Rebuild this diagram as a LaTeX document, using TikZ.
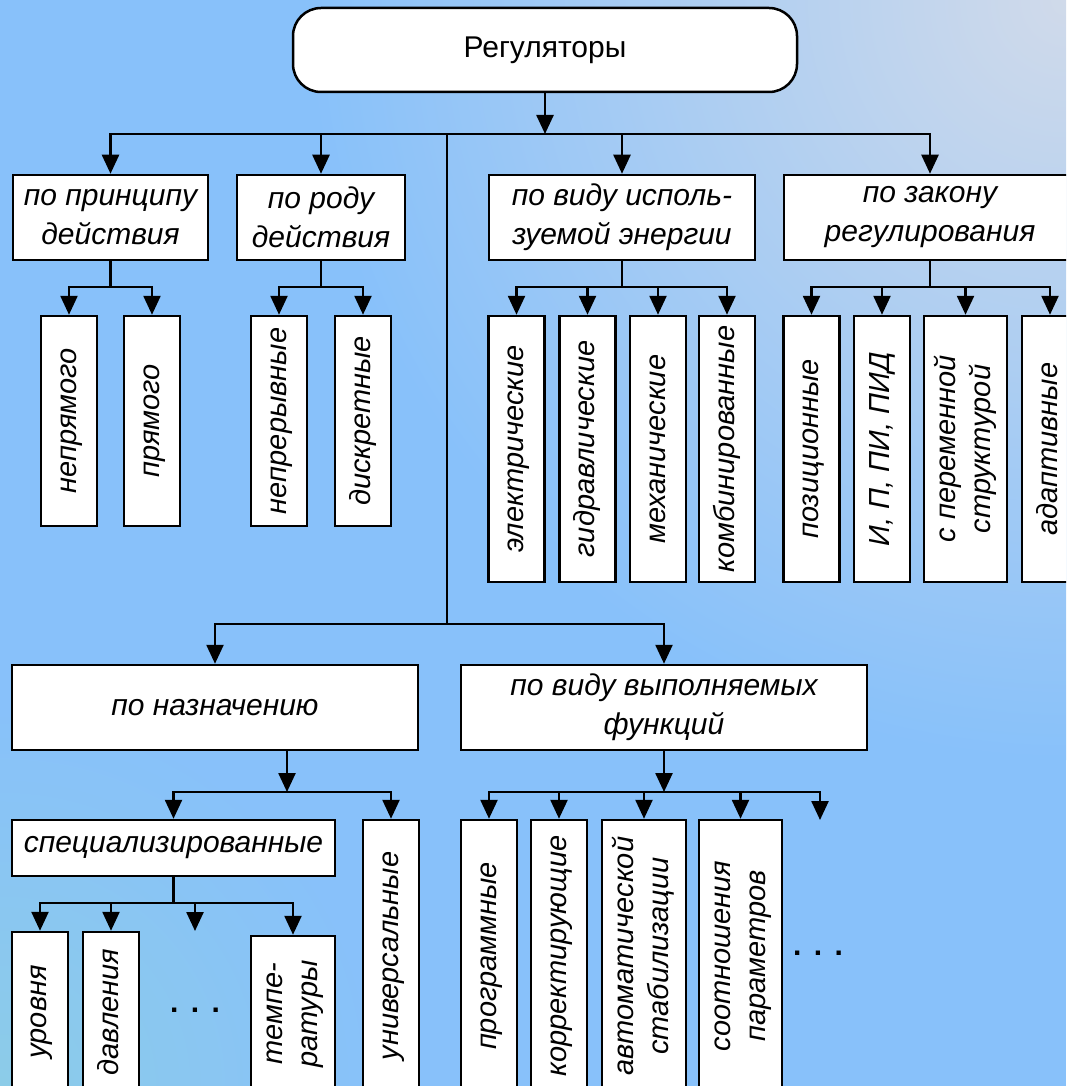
\documentclass[tikz,border=0pt]{standalone}
\usepackage{fontspec}
\setmainfont{Liberation Sans}
\usepackage{xcolor}
\usepackage{tikz}
\usetikzlibrary{arrows.meta}

\definecolor{bgblue}{RGB}{136,193,250}
\definecolor{bggrey}{RGB}{208,218,234}
\definecolor{bgteal}{RGB}{140,204,232}

\newcommand{\vtxt}[1]{\rotatebox{90}{\begin{tabular}{@{}c@{}}#1\end{tabular}}}

\begin{document}
\begin{tikzpicture}[x=1pt, y=-1pt, line width=2.5pt, line cap=rect, color=black,
		cat/.style={draw, fill=white, inner sep=0pt, align=center,
			font=\fontsize{30}{39}\selectfont\itshape},
		leaf/.style={draw, fill=white, inner sep=0pt, minimum width=56pt,
			font=\fontsize{29}{35}\selectfont\itshape},
		arr/.style={-{Triangle[length=19pt,width=17pt]}}]
		\useasboundingbox (0,0) rectangle (1066,1086);
		\clip (0,0) rectangle (1066,1086);
		
		% background
		\fill[bgblue] (0,0) rectangle (1066,1086);
		\shade[inner color=bgteal, outer color=bgblue] (0,1086) circle (380pt);
		\shade[inner color=bggrey, outer color=bgblue] (1066,0) circle (760pt);
		
		% main boxes
		\node[cat, rounded corners=28pt, minimum width=504pt, minimum height=84pt,
			font=\fontsize{30}{39}\selectfont] (reg) at (545,50) {Регуляторы};
		\node[cat, minimum width=195pt, minimum height=85pt] (princ) at (110.5,217.5) {по принципу\\действия};
		\node[cat, minimum width=168pt, minimum height=85pt] (rod) at (321,217.5) {по роду\\действия};
		\node[cat, minimum width=266pt, minimum height=85pt] (energ) at (622,217.5) {по виду исполь-\\зуемой энергии};
		\node[cat, minimum width=292pt, minimum height=85pt] (zakon) at (930,217.5) {по закону\\регулирования};
		\node[cat, minimum width=406pt, minimum height=85pt] (nazn) at (215,707.5) {по назначению};
		\node[cat, minimum width=406pt, minimum height=85pt] (funk) at (664,707.5) {по виду выполняемых\\функций};
		\node[cat, minimum width=323pt, minimum height=56pt] (spec) at (173.5,848) {специализированные};
		
		% vertical boxes
		\begin{scope}[leaf/.append style={minimum height=210pt}]
			\node[leaf] (nepr) at (69,421) {\vtxt{непрямого}};
			\node[leaf] (pryam) at (152,421) {\vtxt{прямого}};
			\node[leaf] (nepre) at (279,421) {\vtxt{непрерывные}};
			\node[leaf] (diskr) at (363,421) {\vtxt{дискретные}};
		\end{scope}
		\begin{scope}[leaf/.append style={minimum height=266pt}]
			\node[leaf] (elek) at (516.5,449) {\vtxt{электрические}};
			\node[leaf] (gidr) at (587.5,449) {\vtxt{гидравлические}};
			\node[leaf] (mekh) at (658,449) {\vtxt{механические}};
			\node[leaf] (komb) at (727,449) {\vtxt{комбинированные}};
			\node[leaf] (pozi) at (811.5,449) {\vtxt{позиционные}};
			\node[leaf] (pid) at (882,449) {\vtxt{И, П, ПИ, ПИД}};
			\node[leaf, minimum width=83pt] (pere) at (965.5,449) {\vtxt{с переменной\\структурой}};
			\node[leaf] (adap) at (1050,449) {\vtxt{адаптивные}};
		\end{scope}
		\begin{scope}[leaf/.append style={minimum height=272pt}]
			\node[leaf] (univ) at (391,956) {\vtxt{универсальные}};
			\node[leaf] (prog) at (489,956) {\vtxt{программные}};
			\node[leaf] (korr) at (559,956) {\vtxt{корректирующие}};
			\node[leaf, minimum width=84pt] (avto) at (644,956) {\vtxt{автоматической\\стабилизации}};
			\node[leaf, minimum width=83pt] (soot) at (740.5,956) {\vtxt{соотношения\\параметров}};
		\end{scope}
		\begin{scope}[leaf/.append style={minimum height=160pt}]
			\node[leaf] (urov) at (40,1012) {\vtxt{уровня}};
			\node[leaf] (davl) at (111,1012) {\vtxt{давления}};
			\node[leaf, minimum width=84pt, minimum height=156pt] (temp) at (293,1014) {\vtxt{темпе-\\ратуры}};
		\end{scope}
		
		% dots
		\begin{scope}[font=\fontsize{30}{39}\selectfont\bfseries]
			\node (dotsa) at (818,953) {.\hspace{12.5pt}.\hspace{12.5pt}.};
			\node (dotsb) at (195,1010) {.\hspace{12.5pt}.\hspace{12.5pt}.};
		\end{scope}
		\coordinate (morea) at (820,820);
		\coordinate (moreb) at (195,931);
		
		% top level
		\coordinate (bar1) at (545,134);
		\draw[arr] (reg.south) -- (bar1);
		\draw (princ.north |- bar1) -- (zakon.north |- bar1);
		\foreach \n in {princ,rod,energ,zakon}
			\draw[arr] (\n.north |- bar1) -- (\n.north);
		\coordinate (bar2) at (447,624);
		\draw (bar2 |- bar1) -- (bar2);
		\draw (nazn.north |- bar2) -- (funk.north |- bar2);
		\foreach \n in {nazn,funk}
			\draw[arr] (\n.north |- bar2) -- (\n.north);
		
		% first row branches
		\coordinate (sub1) at (0,287);
		\draw (princ.south) -- (princ.south |- sub1);
		\draw (nepr.north |- sub1) -- (pryam.north |- sub1);
		\draw (rod.south) -- (rod.south |- sub1);
		\draw (nepre.north |- sub1) -- (diskr.north |- sub1);
		\draw (energ.south) -- (energ.south |- sub1);
		\draw (elek.north |- sub1) -- (komb.north |- sub1);
		\draw (zakon.south) -- (zakon.south |- sub1);
		\draw (pozi.north |- sub1) -- (adap.north |- sub1);
		\foreach \n in {nepr,pryam,nepre,diskr,elek,gidr,mekh,komb,pozi,pid,pere,adap}
			\draw[arr] (\n.north |- sub1) -- (\n.north);
		
		% second row branches
		\coordinate (sub2) at (287,792);
		\draw[arr] (sub2 |- nazn.south) -- (sub2);
		\draw (spec.north |- sub2) -- (univ.north |- sub2);
		\draw[arr] (funk.south) -- (funk.south |- sub2);
		\draw (prog.north |- sub2) -- (morea |- sub2);
		\foreach \n in {spec,univ,prog,korr,avto,soot}
			\draw[arr] (\n.north |- sub2) -- (\n.north);
		\draw[arr] (morea |- sub2) -- (morea);
		
		% specialised
		\coordinate (sub3) at (0,903);
		\draw (spec.south) -- (spec.south |- sub3);
		\draw (urov.north |- sub3) -- (temp.north |- sub3);
		\foreach \n in {urov,davl,temp}
			\draw[arr] (\n.north |- sub3) -- (\n.north);
		\draw[arr] (moreb |- sub3) -- (moreb);
	\end{tikzpicture}
\end{document}
